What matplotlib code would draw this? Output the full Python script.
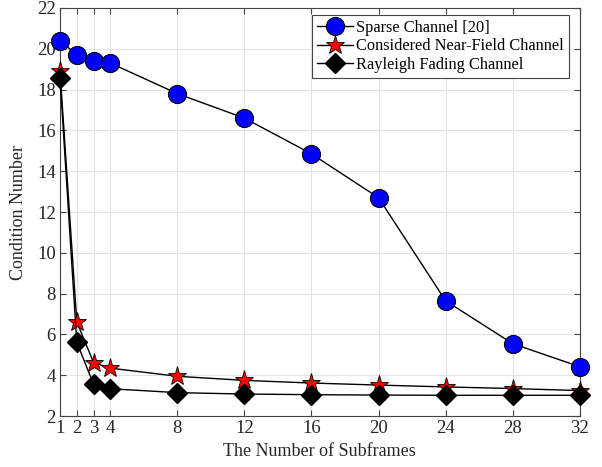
import numpy as np
import matplotlib
matplotlib.use("Agg")
import matplotlib.pyplot as plt

plt.rcParams['font.family'] = ['Liberation Serif', 'DejaVu Serif']

subframes = [1, 2, 3, 4, 8, 12, 16, 20, 24, 28, 32]
sparse = [20.4, 19.7, 19.4, 19.3, 17.8, 16.6, 14.85, 12.7, 7.65, 5.55, 4.42]
near_field = [18.9, 6.62, 4.62, 4.35, 3.95, 3.75, 3.62, 3.52, 3.43, 3.35, 3.25]
rayleigh = [18.55, 5.62, 3.56, 3.34, 3.15, 3.08, 3.05, 3.03, 3.02, 3.02, 3.02]

xticks = [1, 2, 3, 4, 8, 12, 16, 20, 24, 28, 32]
yticks = list(range(2, 23, 2))

fig = plt.figure(figsize=(6.02, 4.67), dpi=100)
ax = fig.add_axes([0.0997, 0.109, 0.8633, 0.874])

ax.plot(subframes, sparse, '-', color='black', lw=1, marker='o', ms=13,
        mfc='blue', mec='black', mew=0.8, label='Sparse Channel [20]', zorder=3, clip_on=False)
ax.plot(subframes, near_field, '-', color='black', lw=1, marker='*', ms=14,
        mfc='red', mec='black', mew=0.6, label='Considered Near-Field Channel', zorder=3, clip_on=False)
ax.plot(subframes, rayleigh, '-', color='black', lw=1, marker='D', ms=10,
        mfc='black', mec='black', label='Rayleigh Fading Channel', zorder=3, clip_on=False)

ax.set_xlim(1, 32)
ax.set_ylim(2, 22)
ax.set_xticks(xticks)
ax.set_yticks(yticks)
ax.tick_params(direction='in', top=True, right=True, labelsize=13.5, length=4,
               color='#444444', labelcolor='#262626', pad=3)
ax.grid(True, color='#e3e3e3', lw=0.8)
ax.set_axisbelow(True)
for s in ax.spines.values():
    s.set_color('#444444')
    s.set_linewidth(0.8)

ax.set_xlabel('The Number of Subframes', fontsize=13, color='#262626', labelpad=4)
ax.set_ylabel('Condition Number', fontsize=13, color='#262626', labelpad=7)

leg = ax.legend(loc='upper right', fontsize=11.8, fancybox=False, framealpha=1,
                edgecolor='#444444', borderpad=0.3, labelspacing=0.15, borderaxespad=0,
                handlelength=2.2, handletextpad=0.2, bbox_to_anchor=(0.979, 0.983))
leg.get_frame().set_linewidth(0.8)

fig.savefig('out.png', dpi=100)
